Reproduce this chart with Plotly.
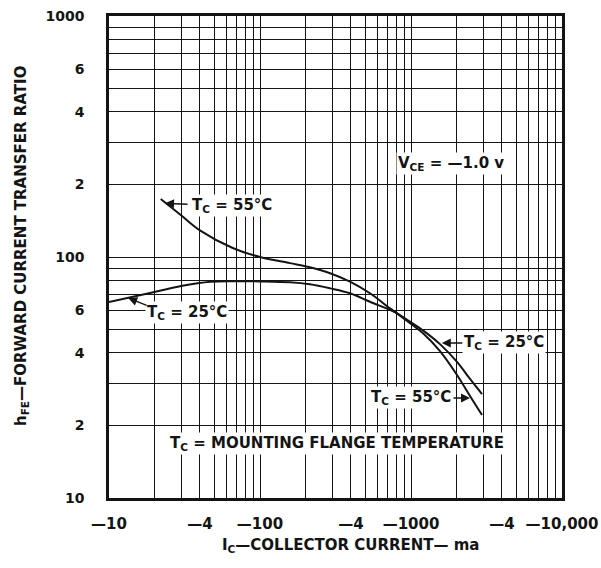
import math
import plotly.graph_objects as go

# ---- data (collector current magnitude in mA, hFE) ----
ic_25 = [10, 20, 30, 47, 68, 100, 158, 214, 291, 394, 535, 726, 804, 985, 1206, 1556, 2017, 2459, 2953]
hfe_25 = [65, 71.6, 75.8, 79, 79.4, 79.2, 78.5, 77, 74.1, 70.7, 65.2, 60.3, 58.5, 53.9, 49.5, 43.5, 36.7, 31.2, 27]

ic_55 = [22, 30, 40, 66, 100, 158, 214, 291, 394, 535, 726, 804, 985, 1206, 1556, 2017, 2459, 2953]
hfe_55 = [174, 149, 129, 109, 100, 94.3, 90.6, 85.6, 79, 70.7, 61.2, 58.5, 53.1, 48.2, 40.7, 32.4, 26.5, 22.1]

# labelled ticks
x_tickvals = [10, 40, 100, 400, 1000, 4000, 10000]
x_ticktext = ["—10", "—4", "—100", "—4", "—1000", "—4", "—10,000"]
y_tickvals = [10, 20, 40, 60, 100, 200, 400, 600, 1000]
y_ticktext = ["10", "2", "4", "6", "100", "2", "4", "6", "1000"]

# unlabelled log-grid lines
x_gridvals = [20, 30, 50, 60, 70, 80, 90,
              200, 300, 500, 600, 700, 800, 900,
              2000, 3000, 5000, 6000, 7000, 8000, 9000]
y_gridvals = [30, 50, 70, 80, 90, 300, 500, 700, 800, 900]

INK = "#141414"
FONT = "DejaVu Sans"

fig = go.Figure()
fig.add_trace(go.Scatter(x=ic_25, y=hfe_25, mode="lines", name="T_C = 25°C",
                         line=dict(color=INK, width=2, shape="spline", smoothing=1.0),
                         showlegend=False))
fig.add_trace(go.Scatter(x=ic_55, y=hfe_55, mode="lines", name="T_C = 55°C",
                         line=dict(color=INK, width=2, shape="spline", smoothing=1.0),
                         showlegend=False))

axis_common = dict(
    type="log", showgrid=True, gridcolor=INK, gridwidth=1,
    showline=True, linecolor=INK, linewidth=2.5, mirror=True,
    ticks="", zeroline=False, automargin=False,
)

fig.update_xaxes(range=[1, 4], tickmode="array", tickvals=x_tickvals,
                 ticktext=x_ticktext, ticklabelstandoff=10,
                 tickfont=dict(family=FONT, size=15, color=INK, weight="bold"),
                 minor=dict(tickmode="array", tickvals=x_gridvals, showgrid=True,
                            gridcolor=INK, gridwidth=1, ticks=""),
                 **axis_common)
fig.update_yaxes(range=[1, 3], tickmode="array", tickvals=y_tickvals,
                 ticktext=y_ticktext, ticklabelstandoff=19,
                 tickfont=dict(family=FONT, size=14, color=INK, weight="bold"),
                 minor=dict(tickmode="array", tickvals=y_gridvals, showgrid=True,
                            gridcolor=INK, gridwidth=1, ticks=""),
                 **axis_common)


def label(text, xv, yv, size=15):
    fig.add_annotation(x=math.log10(xv), y=math.log10(yv), xref="x", yref="y",
                       text=text, showarrow=False, bgcolor="white", borderpad=1,
                       font=dict(family=FONT, size=size, color=INK, weight="bold"),
                       xanchor="center", yanchor="middle")


def arrow(xv, yv, ax, ay):
    fig.add_annotation(x=math.log10(xv), y=math.log10(yv), xref="x", yref="y",
                       text="", showarrow=True, ax=ax, ay=ay,
                       arrowhead=2, arrowsize=1.2, arrowwidth=1.5, arrowcolor=INK)


label("V<sub>CE</sub> = —1.0 v", 1840, 245)
label("T<sub>C</sub> = 55°C", 65, 164)
arrow(23.5, 167, 24, 1)
label("T<sub>C</sub> = 25°C", 33, 59)
arrow(13.4, 67.6, 20, 8)
label("T<sub>C</sub> = 25°C", 4130, 44)
arrow(1600, 44, 22, 0)
label("T<sub>C</sub> = 55°C", 1000, 26)
arrow(2460, 26, -18, 0)
label("T<sub>C</sub> = MOUNTING FLANGE TEMPERATURE", 324, 16.9)

# axis titles
fig.add_annotation(x=-87 / 453, y=(498 - 246) / 482, xref="paper", yref="paper",
                   text="h<sub>FE</sub>—FORWARD CURRENT TRANSFER RATIO", textangle=-90,
                   showarrow=False, font=dict(family=FONT, size=15, color=INK, weight="bold"),
                   xanchor="center", yanchor="middle")
fig.add_annotation(x=(351 - 109) / 453, y=-(545 - 498) / 482, xref="paper", yref="paper",
                   text="I<sub>C</sub>—COLLECTOR CURRENT— ma",
                   showarrow=False, font=dict(family=FONT, size=15, color=INK, weight="bold"),
                   xanchor="center", yanchor="middle")

fig.update_layout(
    width=601, height=568,
    margin=dict(l=109, r=39, t=16, b=70),
    paper_bgcolor="white", plot_bgcolor="white",
    showlegend=False,
)

fig.write_html("out.html")
